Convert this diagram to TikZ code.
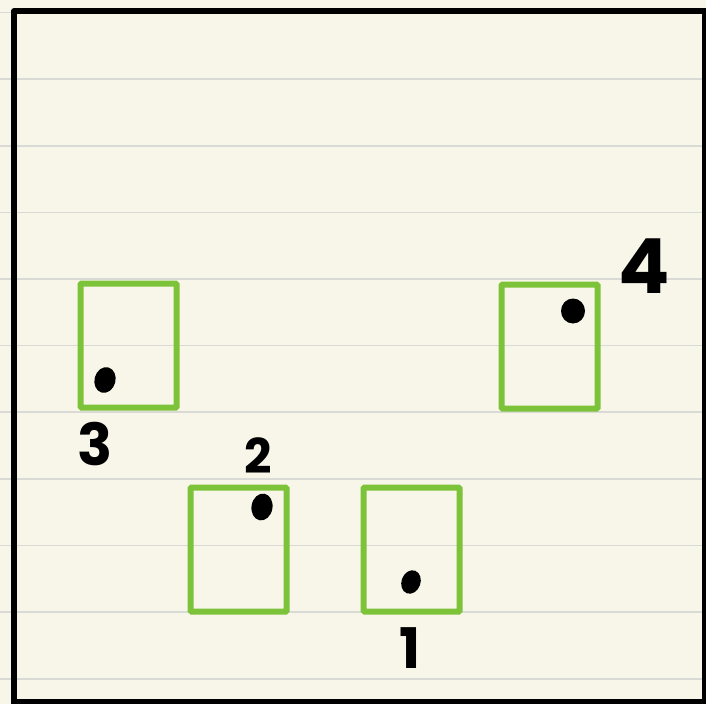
\documentclass[tikz,border=0pt]{standalone}
\usepackage{fontspec}
\setmainfont{Poppins}
\usetikzlibrary{shapes.geometric}
\definecolor{paper}{HTML}{F8F6E9}
\definecolor{rule}{HTML}{D9D9D6}
\definecolor{boxgreen}{HTML}{7DC33A}
\tikzset{
  cell/.style={draw=boxgreen, line width=6pt, rounded corners=1pt, minimum width=96pt, minimum height=124pt, inner sep=0pt, outer sep=0pt, anchor=north west},
  pip/.style={ellipse, fill=black, inner sep=0pt, minimum width=21pt, minimum height=26pt},
  num/.style={font=\fontsize{56}{56}\selectfont\bfseries, text=black, inner sep=0pt},
}
\begin{document}
\begin{tikzpicture}[x=1pt,y=-1pt]
\fill[paper] (0,0) rectangle (706,704);
\useasboundingbox (0,0) rectangle (706,704);
\foreach \yy in {12.5,79,146,212.5,279,345.5,412,479,545.5,612,679}
  \draw[rule, line width=1.5pt] (0,\yy) -- (706,\yy);
\draw[black, line width=5.5pt, line join=round] (14,704) -- (14,11) -- (708,11);
\draw[black, line width=5.5pt] (704.5,11) -- (704.5,701.5) -- (14,701.5);
% boxes
\node[cell] (b3) at (80.5,283.5) {};
\node[cell] (b4) at (501.5,284.5) {};
\node[cell] (b2) at (190.5,487.5) {};
\node[cell] (b1) at (363.5,487.5) {};
% dots
\node[pip, rotate=-15] (d3) at (105,380) {};
\node[pip, minimum width=24pt, minimum height=25pt] (d4) at (573,311) {};
\node[pip, rotate=-10, minimum height=27pt] (d2) at (262,507) {};
\node[pip, rotate=-20, minimum width=19pt, minimum height=24pt] (d1) at (411,582) {};
% labels
\node[num, font=\fontsize{58}{58}\selectfont\bfseries] (l3) at (95,444) {3};
\node[num, font=\fontsize{76}{76}\selectfont\bfseries] (l4) at (644,266) {4};
\node[num, font=\fontsize{48}{48}\selectfont\bfseries] (l2) at (258,456) {2};
\node[num] (l1) at (410,648) {1};
\end{tikzpicture}
\end{document}
